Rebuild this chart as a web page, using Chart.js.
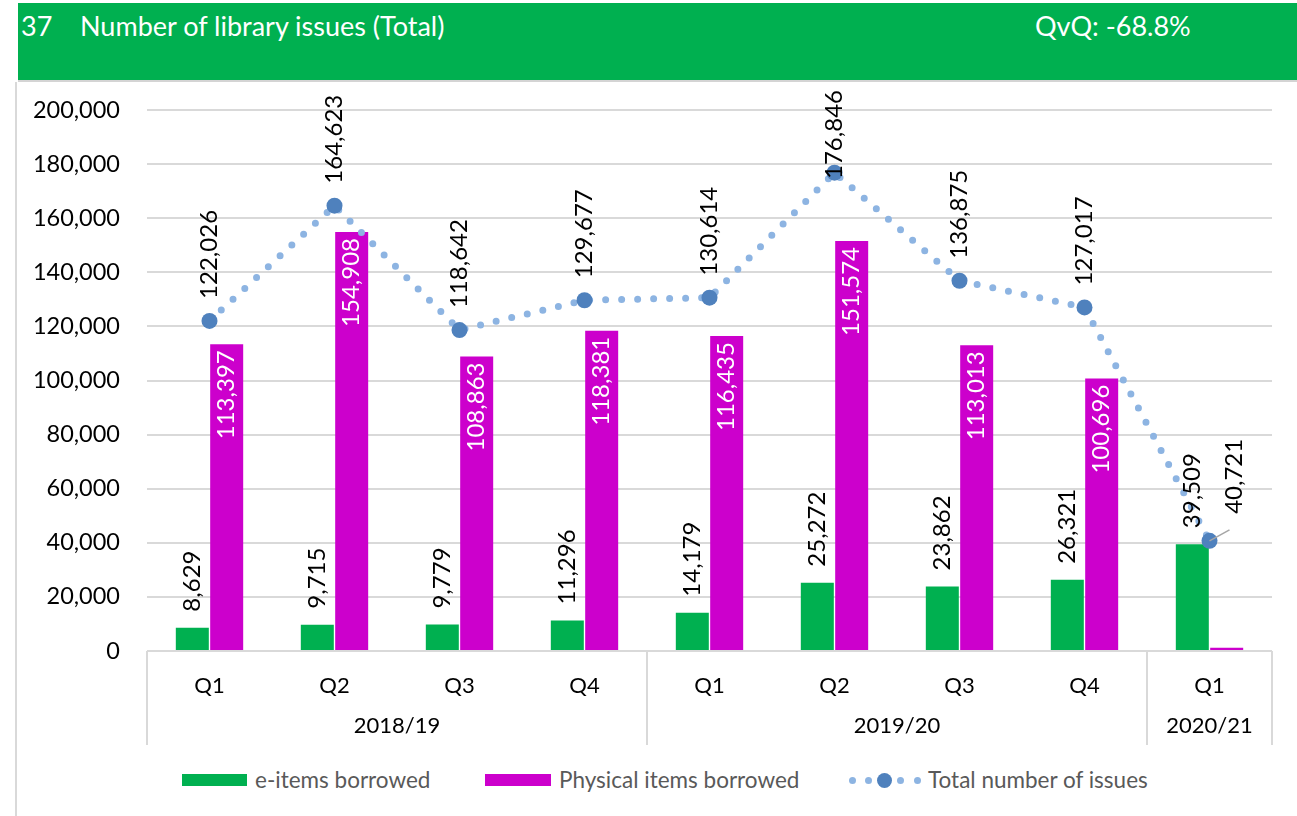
<!DOCTYPE html>
<html>
<head>
<meta charset="utf-8">
<script src="https://cdn.jsdelivr.net/npm/chart.js@4.4.1/dist/chart.umd.min.js"></script>
<style>
  body { margin: 0; background: #fff; font-family: Lato, "Open Sans", sans-serif; }
  #header { position: absolute; left: 18px; top: 3px; width: 1279px; height: 77px; background: #00b050; border-bottom: 2px solid #d4d4d4; color: #fff; font-size: 27px; }
  #header span { position: absolute; top: 6px; }
  #panel { position: absolute; left: 15px; top: 82px; width: 0; height: 734px; border-left: 2px solid #d9d9d9; }
  #wrap { position: absolute; left: 18px; top: 83px; width: 1279px; height: 680px; }
  .lg { position: absolute; top: 766px; font-size: 22.5px; color: #595959; line-height: 28px; }
  .box { position: absolute; height: 12px; top: 774px; }
  .dot { position: absolute; border-radius: 50%; }
</style>
</head>
<body>
<div id="header"><span style="left:3px">37</span><span style="left:62px">Number of library issues (Total)</span><span style="left:1017px">QvQ: -68.8%</span></div>
<div id="panel"></div>
<div id="wrap"><canvas id="chart"></canvas></div>

<div class="box" style="left:182px;width:65px;background:#00b050"></div>
<div class="lg" style="left:255px">e-items borrowed</div>
<div class="box" style="left:485px;width:66px;background:#cc00cc"></div>
<div class="lg" style="left:559px">Physical items borrowed</div>
<div class="dot" style="left:849px;top:777px;width:7px;height:7px;background:#8db4e2"></div>
<div class="dot" style="left:865px;top:777px;width:7px;height:7px;background:#8db4e2"></div>
<div class="dot" style="left:877px;top:773px;width:15px;height:15px;background:#4f81bd"></div>
<div class="dot" style="left:897px;top:777px;width:7px;height:7px;background:#8db4e2"></div>
<div class="dot" style="left:914px;top:777px;width:7px;height:7px;background:#8db4e2"></div>
<div class="lg" style="left:928px">Total number of issues</div>

<script>
var quarters = ['Q1', 'Q2', 'Q3', 'Q4', 'Q1', 'Q2', 'Q3', 'Q4', 'Q1'];
var years = ['2018/19', '2019/20', '2020/21'];
var yearSpans = [4, 4, 1];
var eItems = [8629, 9715, 9779, 11296, 14179, 25272, 23862, 26321, 39509];
var physical = [113397, 154908, 108863, 118381, 116435, 151574, 113013, 100696, 1212];
var totalIssues = [122026, 164623, 118642, 129677, 130614, 176846, 136875, 127017, 40721];
var yTicks = [0, 20000, 40000, 60000, 80000, 100000, 120000, 140000, 160000, 180000, 200000];

var FONT = 'Lato, "Open Sans", sans-serif';
var fmt = function(v) { return v.toLocaleString('en-US'); };

// rotated value labels
var labelsPlugin = {
  id: 'valueLabels',
  afterDatasetsDraw: function(chart) {
    var ctx = chart.ctx;
    var area = chart.chartArea;
    ctx.save();
    ctx.font = '24px ' + FONT;
    ctx.textBaseline = 'middle';
    function vtext(txt, x, y, align, color) {
      ctx.save();
      ctx.translate(x, y);
      ctx.rotate(-Math.PI / 2);
      ctx.textAlign = align;
      ctx.fillStyle = color;
      ctx.fillText(txt, 0, 0);
      ctx.restore();
    }
    var last = totalIssues.length - 1;
    chart.getDatasetMeta(0).data.forEach(function(bar, i) {
      vtext(fmt(eItems[i]), bar.x, bar.y - 16, 'left', '#000');
    });
    // inside-end labels stay inside the plot
    ctx.save();
    ctx.beginPath();
    ctx.rect(area.left, area.top, area.right - area.left, area.bottom - area.top);
    ctx.clip();
    chart.getDatasetMeta(1).data.forEach(function(bar, i) {
      vtext(fmt(physical[i]), bar.x, bar.y + 6, 'right', '#fff');
    });
    ctx.restore();
    chart.getDatasetMeta(2).data.forEach(function(pt, i) {
      var txt = fmt(totalIssues[i]);
      if (i === last) {
        // moved label with leader line, like the original
        ctx.strokeStyle = '#a6a6a6';
        ctx.lineWidth = 1.5;
        ctx.beginPath();
        ctx.moveTo(pt.x, pt.y);
        ctx.lineTo(pt.x + 20, pt.y - 11);
        ctx.stroke();
        vtext(txt, pt.x + 25, pt.y - 27, 'left', '#000');
      } else {
        var w = ctx.measureText(txt).width;
        var y0 = Math.max(pt.y - 22, 7 + w);   // keep inside the panel
        vtext(txt, pt.x, y0, 'left', '#000');
      }
    });
    ctx.restore();
  }
};

// year groups under the quarter labels
var groupAxisPlugin = {
  id: 'groupAxis',
  afterDraw: function(chart) {
    var ctx = chart.ctx;
    var xs = chart.scales.x;
    var area = chart.chartArea;
    var step = (area.right - area.left) / quarters.length;
    ctx.save();
    ctx.strokeStyle = '#d9d9d9';
    ctx.lineWidth = 2;
    ctx.beginPath();
    ctx.moveTo(area.left, area.bottom);
    ctx.lineTo(area.right, area.bottom);
    var start = 0;
    var edges = [0];
    yearSpans.forEach(function(n) { start += n; edges.push(start); });
    edges.forEach(function(k) {
      var x = Math.round(xs.getPixelForValue(k) - step / 2);
      ctx.moveTo(x, area.bottom);
      ctx.lineTo(x, area.bottom + 94);
    });
    ctx.stroke();
    ctx.fillStyle = '#000';
    ctx.font = '22px ' + FONT;
    ctx.textAlign = 'center';
    ctx.textBaseline = 'middle';
    years.forEach(function(y, j) {
      var a = xs.getPixelForValue(edges[j]) - step / 2;
      var b = xs.getPixelForValue(edges[j + 1]) - step / 2;
      ctx.fillText(y, (a + b) / 2, area.bottom + 75);
    });
    ctx.restore();
  }
};

var ctx = document.getElementById('chart');
new Chart(ctx, {
  type: 'bar',
  data: {
    labels: quarters,
    datasets: [
      {
        label: 'e-items borrowed',
        data: eItems,
        backgroundColor: '#00b050',
        categoryPercentage: 0.55,
        barPercentage: 0.96,
        order: 1
      },
      {
        label: 'Physical items borrowed',
        data: physical,
        backgroundColor: '#cc00cc',
        categoryPercentage: 0.55,
        barPercentage: 0.96,
        order: 2
      },
      {
        type: 'line',
        label: 'Total number of issues',
        data: totalIssues,
        borderColor: '#8db4e2',
        borderWidth: 7,
        borderDash: [0, 16],
        borderCapStyle: 'round',
        pointRadius: 8,
        pointBackgroundColor: '#4f81bd',
        pointBorderWidth: 0,
        tension: 0,
        order: 0
      }
    ]
  },
  options: {
    responsive: true,
    maintainAspectRatio: false,
    animation: false,
    layout: { padding: { left: 0, right: 25, top: 27, bottom: 18 } },
    plugins: {
      legend: { display: false },
      tooltip: { enabled: false }
    },
    scales: {
      x: {
        grid: { display: false, drawTicks: false },
        border: { display: false },
        ticks: { color: '#000', font: { family: FONT, size: 22 }, padding: 22, maxRotation: 0 },
        afterFit: function(s) { s.height = 94; }
      },
      y: {
        min: 0,
        max: 200000,
        afterBuildTicks: function(s) { s.ticks = yTicks.map(function(v) { return { value: v }; }); },
        grid: { color: '#d9d9d9', lineWidth: 2, drawTicks: true, tickLength: 27, tickColor: 'rgba(0,0,0,0)' },
        border: { display: false },
        ticks: { color: '#000', font: { family: FONT, size: 23.5 }, padding: 0, callback: function(v) { return fmt(v); } },
        afterFit: function(s) { s.width = 129; }
      }
    }
  },
  plugins: [labelsPlugin, groupAxisPlugin]
});
</script>
</body>
</html>
